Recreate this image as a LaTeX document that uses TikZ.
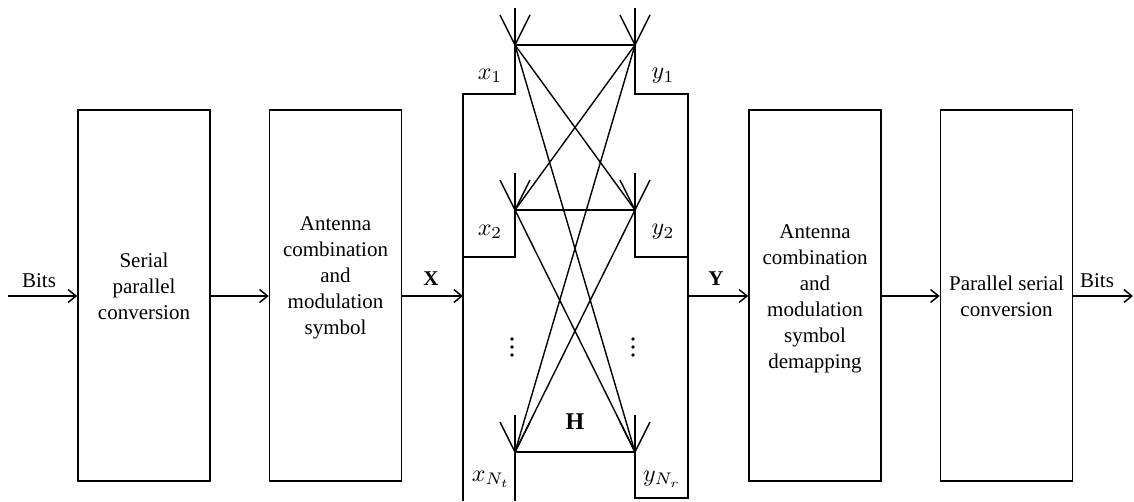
\documentclass[tikz,border=0pt]{standalone}
\usepackage{fontspec}
\setmainfont{Liberation Serif}
\usetikzlibrary{arrows.meta}
\begin{document}
\begin{tikzpicture}[x=1pt,y=-1pt,
  blk/.style={draw,line width=1.6pt,minimum width=132pt,minimum height=371pt,inner sep=0pt},
  txt/.style={align=center,inner sep=0pt,font=\fontsize{21}{26}\selectfont},
  lbl/.style={inner sep=0pt,font=\fontsize{21}{26}\selectfont},
  mlbl/.style={inner sep=0pt,scale=2.4},
  arr/.style={line width=1.5pt,-{Straight Barb[length=8pt,width=13pt,line width=1.5pt]}},
  thick3/.style={line width=2.8pt},
  thin1/.style={line width=1.4pt},
  ant/.style={line width=1.4pt},
  dot/.style={circle,fill,inner sep=0pt,minimum size=3.6pt}]
\useasboundingbox (0,0) rectangle (1134,501);
% blocks
\node[blk] (b1) at (144,295.5) {};
\node[blk] (b2) at (335.5,295.5) {};
\node[blk] (b3) at (815,295.5) {};
\node[blk] (b4) at (1006.5,295.5) {};
\node[txt] at (144,286) {Serial\\parallel\\conversion};
\node[txt] at (335.5,278) {Antenna\\combination\\and\\modulation\\symbol};
\node[txt] at (815,299) {Antenna\\combination\\and\\modulation\\symbol\\demapping};
\node[txt] at (1006.5,296) {Parallel serial\\conversion};
% antennas
\coordinate (t1) at (515,45);
\coordinate (t2) at (515,210);
\coordinate (t3) at (515,452);
\coordinate (r1) at (635,45);
\coordinate (r2) at (635,210);
\coordinate (r3) at (635,452);
% MIMO frame
\draw[thick3] (t1) -- (r1);
\draw[thick3] (t2) -- (r2);
\draw[thick3] (t3) -- (r3);
\coordinate (lin) at (463,296);
\coordinate (rout) at (688,296);
\draw[thick3] (t1) -- (515,94) -- (463,94) -- (463,501);
\draw[thick3] (t2) -- (515,257) -- (463,257);
\draw[thick3] (t3) -- (515,501);
\draw[thick3] (r1) -- (635,94) -- (688,94) -- (688,499);
\draw[thick3] (r2) -- (635,257) -- (688,257);
\draw[thick3] (r3) -- (635,498) -- (689.4,498);
% antenna symbols
\foreach \a in {t1,t2,t3,r1,r2,r3}{
  \draw[ant] (\a) -- ++(0,-37);
  \draw[ant] (\a) -- ++(-15,-30);
  \draw[ant] (\a) -- ++(15,-30);
}
% channel lines
\draw[thin1] (t1) -- (r2);
\draw[thin1] (t1) -- (r3);
\draw[thin1] (r1) -- (t2);
\draw[thin1] (r1) -- (t3);
\draw[thin1] (t2) -- (r3);
\draw[thin1] (r2) -- (t3);
% labels
\node[mlbl] at (490,76) {$x_1$};
\node[mlbl] at (663,76) {$y_1$};
\node[mlbl] at (490,232) {$x_2$};
\node[mlbl] at (663,232) {$y_2$};
\node[mlbl] at (491,479) {$x_{N_t}$};
\node[mlbl] at (662,479) {$y_{N_r}$};
\node[inner sep=0pt,font=\fontsize{24}{28}\selectfont] at (575,422) {\textbf{H}};
\foreach \xx in {512,633}{
  \node[dot] at (\xx,339) {};
  \node[dot] at (\xx,347) {};
  \node[dot] at (\xx,355) {};
}
% arrows
\coordinate (inL) at (8,296);
\coordinate (outR) at (1133,296);
\draw[arr] (inL) -- (b1.west|-inL);
\draw[arr] (b1.east|-inL) -- (b2.west|-inL);
\draw[arr] (b2.east|-inL) -- (lin);
\draw[arr] (rout) -- (b3.west|-inL);
\draw[arr] (b3.east|-inL) -- (b4.west|-inL);
\draw[arr] (b4.east|-inL) -- (outR);
\node[lbl] at (39,281) {Bits};
\node[lbl] at (1097,281) {Bits};
\node[lbl] at (431,279) {\textbf{X}};
\node[lbl] at (716,279) {\textbf{Y}};
\end{tikzpicture}
\end{document}
